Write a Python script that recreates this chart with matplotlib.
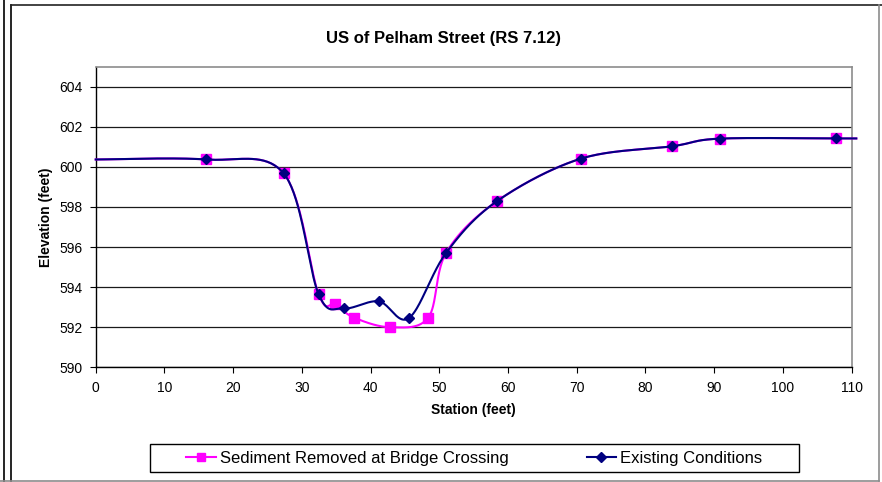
import numpy as np
import matplotlib
matplotlib.use("Agg")
import matplotlib.pyplot as plt
from matplotlib.lines import Line2D
from matplotlib.patches import Rectangle

plt.rcParams['font.family'] = ['Liberation Sans', 'DejaVu Sans']

# first and last entries only carry the curve to the plot edges (no marker)
station_sed = [0, 16.0, 27.35, 32.45, 34.9, 37.6, 42.9, 48.4, 51.0, 58.4,
               70.6, 83.9, 90.8, 107.7, 110.7]
elev_sed = [600.37, 600.37, 599.68, 593.64, 593.14, 592.48, 592.0, 592.48,
            595.71, 598.29, 600.41, 601.03, 601.41, 601.42, 601.42]

station_ex = [0, 16.0, 27.35, 32.45, 36.1, 41.2, 45.6, 51.0, 58.4,
              70.6, 83.9, 90.8, 107.7, 110.7]
elev_ex = [600.37, 600.37, 599.68, 593.64, 592.94, 593.29, 592.46, 595.71,
           598.29, 600.41, 601.03, 601.41, 601.42, 601.42]

x_ticks = list(range(0, 111, 10))
y_ticks = list(range(590, 605, 2))


def smooth(x, y, n=40):
    # Excel style smoothed line (Catmull-Rom as cubic Bezier)
    pts = np.column_stack([x, y]).astype(float)
    p = np.vstack([pts[0], pts, pts[-1]])
    t = np.linspace(0, 1, n)[:, None]
    segs = []
    for i in range(1, len(p) - 2):
        p0, p1, p2, p3 = p[i - 1], p[i], p[i + 1], p[i + 2]
        c1 = p1 + (p2 - p0) / 6
        c2 = p2 - (p3 - p1) / 6
        segs.append((1 - t)**3 * p1 + 3 * (1 - t)**2 * t * c1
                    + 3 * (1 - t) * t**2 * c2 + t**3 * p2)
    out = np.vstack(segs)
    return out[:, 0], out[:, 1]


W, H = 882, 482
fig = plt.figure(figsize=(W / 100, H / 100), dpi=100)
ax = fig.add_axes([95.7 / W, 1 - 367.3 / H, (851.5 - 95.7) / W, (367.3 - 66.7) / H])

mag = '#FF00FF'
navy = '#000080'

xs, ys = smooth(station_sed, elev_sed)
ax.plot(xs, ys, color=mag, lw=1.5, clip_on=False, zorder=3)
ax.plot(station_sed[1:-1], elev_sed[1:-1], ls='none', marker='s', ms=6.6,
        color=mag, zorder=4)

xe, ye = smooth(station_ex, elev_ex)
ax.plot(xe, ye, color=navy, lw=1.5, clip_on=False, zorder=5)
ax.plot(station_ex[1:-1], elev_ex[1:-1], ls='none', marker='D', ms=5.0,
        color=navy, zorder=6)

ax.set_xlim(0, 110)
ax.set_ylim(590, 605)
ax.set_xticks(x_ticks)
ax.set_yticks(y_ticks)
ax.yaxis.grid(True, color='#1a1a1a', lw=0.9)
ax.set_axisbelow(True)
ax.tick_params(direction='out', length=4, width=0.8, labelsize=10, colors='black')
ax.tick_params(axis='x', pad=6)
ax.tick_params(axis='y', pad=5.5)
for s in ['top', 'right']:
    ax.spines[s].set_color('#8c8c8c')
    ax.spines[s].set_linewidth(1.2)
for s in ['left', 'bottom']:
    ax.spines[s].set_color('black')
    ax.spines[s].set_linewidth(1.0)

fig.text(444 / W, 1 - 38 / H, 'US of Pelham Street (RS 7.12)', ha='center',
         va='center', fontsize=12, fontweight='bold')
fig.text(473 / W, 1 - 410 / H, 'Station (feet)', ha='center', va='center',
         fontsize=10, fontweight='bold')
fig.text(46 / W, 1 - 217 / H, 'Elevation (feet)', ha='center', va='center',
         fontsize=10, fontweight='bold', rotation=90)

# legend with hand drawn box
handles = [Line2D([], [], color=mag, lw=1.5, marker='s', ms=6.3),
           Line2D([], [], color=navy, lw=1.5, marker='D', ms=4.6)]
fig.legend(handles, ['Sediment Removed at Bridge Crossing', 'Existing Conditions'],
           loc='center', bbox_to_anchor=(474.4 / W, 1 - 458.3 / H), ncol=2,
           frameon=False, fontsize=12, handlelength=1.75, handletextpad=0.25,
           columnspacing=4.7)
fig.add_artist(Rectangle((149.7 / W, 1 - 472.3 / H), (799 - 149.7) / W, 28 / H,
                         transform=fig.transFigure, fill=False, ec='black', lw=1))

# chart frame lines
def fline(x0, y0, x1, y1, c):
    fig.add_artist(Line2D([x0 / W, x1 / W], [1 - y0 / H, 1 - y1 / H],
                          transform=fig.transFigure, color=c, lw=1.2))

fline(4.3, 0, 4.3, 482, 'black')
fline(10.5, 4.5, 10.5, 481, 'black')
fline(10.5, 4.5, 882, 4.5, '#222222')
fline(879, 4.5, 879, 481, '#8c8c8c')
fline(0, 481, 879, 481, '#8c8c8c')

fig.savefig('out.png', dpi=100)
